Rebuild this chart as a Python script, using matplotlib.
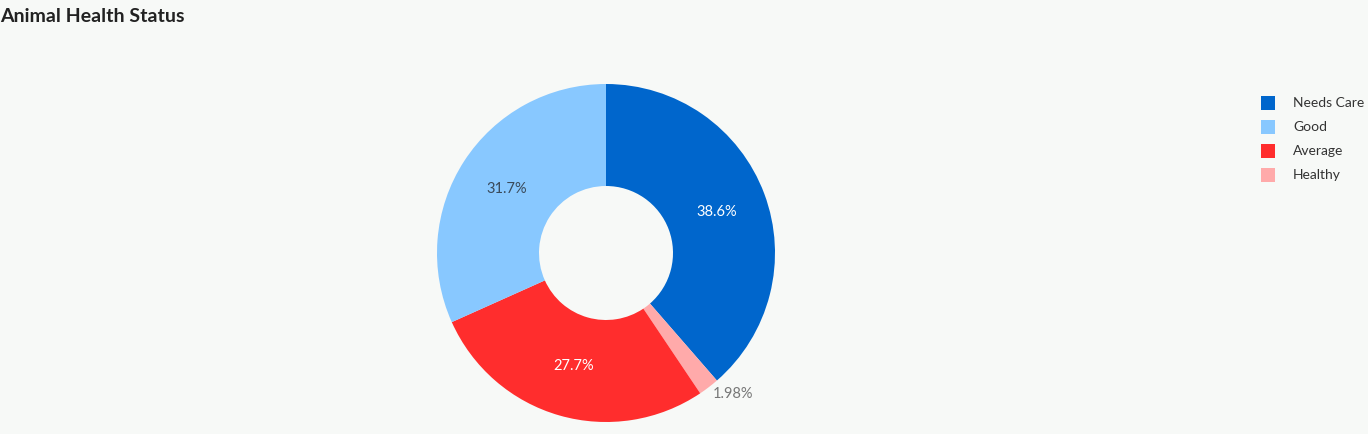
import numpy as np
import matplotlib.pyplot as plt
from matplotlib.patches import Rectangle

# slice order as drawn (clockwise from 12 o'clock)
labels = ["Needs Care", "Healthy", "Average", "Good"]
values = [38.6, 1.98, 27.7, 31.7]
colors = ["#0066cc", "#ffaaaa", "#ff2d2d", "#88c8ff"]
text_colors = ["white", "#777777", "white", "#3a4a5a"]
pct_text = ["38.6%", "1.98%", "27.7%", "31.7%"]

# legend order
legend_labels = ["Needs Care", "Good", "Average", "Healthy"]

plt.rcParams['font.family'] = ['Lato', 'DejaVu Sans']
bg = "#f7f9f7"

W, H = 1368, 434
fig = plt.figure(figsize=(W / 100, H / 100), dpi=100, facecolor=bg)

cx, cy, R = 606, 253, 169
lim = 1.2
size = 2 * lim * R
ax = fig.add_axes([(cx - size / 2) / W, (H - cy - size / 2) / H, size / W, size / H])
ax.set_facecolor(bg)
ax.axis("off")

hole = 67 / R
wedges, _ = ax.pie(values, colors=colors, startangle=90, counterclock=False,
                   wedgeprops=dict(width=1 - hole, linewidth=0))
ax.set_xlim(-lim, lim)
ax.set_ylim(-lim, lim)
ax.set_aspect("equal")

# percentage labels: inside the ring, small slices outside
mid_r = (1 + hole) / 2
for w, txt, tc, v in zip(wedges, pct_text, text_colors, values):
    ang = np.deg2rad((w.theta1 + w.theta2) / 2)
    if v < 5:
        ax.text(1.1 * np.cos(ang) + 0.08, 1.1 * np.sin(ang) + 0.04, txt,
                ha="center", va="center", fontsize=10.5, color=tc)
    else:
        ax.text(mid_r * np.cos(ang), mid_r * np.sin(ang), txt, ha="center", va="center",
                fontsize=10.5, color=tc)

fig.text(0 / W, 1 - 16 / H, "Animal Health Status", fontsize=14, fontweight="bold",
         color="#222222", ha="left", va="center")

color_map = dict(zip(labels, colors))
for i, lab in enumerate(legend_labels):
    y = 103 + 24 * i
    fig.patches.append(Rectangle((1261 / W, 1 - (y + 7) / H), 14 / W, 14 / H,
                                 transform=fig.transFigure, facecolor=color_map[lab],
                                 edgecolor="none"))
    fig.text(1293 / W, 1 - y / H, lab, fontsize=10, color="#333333", ha="left", va="center")

fig.savefig("out.png", dpi=100, facecolor=bg)
